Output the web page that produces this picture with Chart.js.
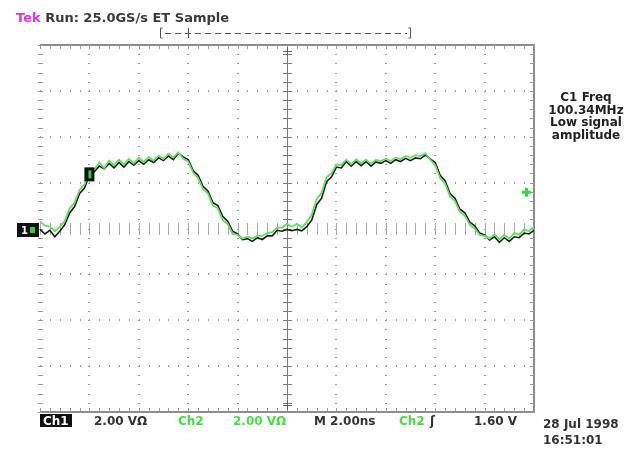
<!DOCTYPE html>
<html>
<head>
<meta charset="utf-8">
<script src="https://cdn.jsdelivr.net/npm/chart.js@4/dist/chart.umd.min.js"></script>
<style>
  html, body { margin: 0; padding: 0; background: #ffffff; }
  #wrap { width: 640px; height: 450px; position: relative; }
</style>
</head>
<body>
<div id="wrap"><canvas id="c" width="640" height="450"></canvas></div>
<script>
// ---- Acquisition settings ----
const T_START_NS = -10;      // left edge of record
const SAMPLE_NS = 0.2;       // spacing of the plotted samples
const TIME_TICKS_NS = [-10, -8, -6, -4, -2, 0, 2, 4, 6, 8, 10];
const VOLT_TICKS_DIV = [-4, -3, -2, -1, 0, 1, 2, 3, 4];

// ---- Channel 1 (black), in vertical divisions ----
const ch1Div = [
  -0.02,-0.12,-0.04,-0.18,-0.06, 0.08, 0.34, 0.48, 0.76, 0.88,
   1.16, 1.24, 1.36, 1.30, 1.42, 1.32, 1.44, 1.34, 1.46, 1.38,
   1.48, 1.40, 1.50, 1.44, 1.54, 1.48, 1.58, 1.50, 1.64, 1.56,
   1.50, 1.26, 1.16, 0.92, 0.82, 0.56, 0.50, 0.26, 0.16,-0.06,
  -0.12,-0.24,-0.22,-0.28,-0.20,-0.24,-0.16,-0.16,-0.04,-0.06,
  -0.02,-0.05,-0.02,-0.05, 0.04, 0.18, 0.52, 0.66, 1.02, 1.12,
   1.34, 1.32, 1.46, 1.36, 1.46, 1.37, 1.46, 1.36, 1.45, 1.42,
   1.48, 1.42, 1.50, 1.46, 1.53, 1.48, 1.54, 1.52, 1.60, 1.52,
   1.44, 1.16, 1.04, 0.76, 0.66, 0.42, 0.34, 0.14, 0.06,-0.10,
  -0.14,-0.25,-0.18,-0.30,-0.20,-0.28,-0.18,-0.20,-0.10,-0.12,
  -0.04
];

// ---- Channel 2 (green), in vertical divisions ----
const ch2Div = [
   0.16, 0.06, 0.04,-0.06, 0.04, 0.16, 0.44, 0.56, 0.84, 0.96,
   1.22, 1.28, 1.44, 1.32, 1.48, 1.38, 1.50, 1.39, 1.52, 1.42,
   1.54, 1.45, 1.56, 1.48, 1.59, 1.52, 1.63, 1.55, 1.66, 1.52,
   1.46, 1.22, 1.10, 0.86, 0.76, 0.50, 0.44, 0.18, 0.10,-0.12,
  -0.14,-0.22,-0.18,-0.22,-0.16,-0.16,-0.10,-0.08, 0.02, 0.02,
   0.10, 0.04, 0.10, 0.02, 0.14, 0.30, 0.64, 0.78, 1.12, 1.20,
   1.40, 1.38, 1.50, 1.40, 1.51, 1.42, 1.50, 1.41, 1.50, 1.47,
   1.52, 1.47, 1.55, 1.51, 1.58, 1.54, 1.60, 1.58, 1.64, 1.50,
   1.38, 1.10, 0.98, 0.70, 0.60, 0.36, 0.28, 0.08, 0.00,-0.14,
  -0.16,-0.22,-0.12,-0.24,-0.14,-0.22,-0.10,-0.14,-0.02,-0.06,
   0.04
];

// ---- Screen readouts ----
const headerBrand = "Tek";
const headerText = "Run: 25.0GS/s ET Sample";
const measureLines = ["C1 Freq", "100.34MHz", "Low signal", "amplitude"];
const ch1Label = "Ch1";
const ch1Scale = "2.00 V\u03A9";
const ch2Label = "Ch2";
const ch2Scale = "2.00 V\u03A9";
const timebase = "M 2.00ns";
const trigSource = "Ch2";
const trigSlope = "\u0283";
const trigLevel = "1.60 V";
const dateText = "28 Jul 1998";
const timeText = "16:51:01";
const trigLevelDiv = 0.8;    // 1.60 V at 2 V/div

const toPoints = arr => arr.map((v, i) => ({ x: T_START_NS + i * SAMPLE_NS, y: v }));

const FONT = "'DejaVu Sans', sans-serif";

const scopePlugin = {
  id: 'scope',
  beforeDatasetsDraw(chart) {
    const { ctx, scales: { x, y } } = chart;
    const L = x.getPixelForValue(-10), R = x.getPixelForValue(10);
    const T = y.getPixelForValue(4), B = y.getPixelForValue(-4);
    const cx = x.getPixelForValue(0), cy = y.getPixelForValue(0);
    ctx.save();
    // dotted graticule along vertical major lines
    ctx.fillStyle = '#9a9a9a';
    for (const tx of TIME_TICKS_NS) {
      if (tx === 0) continue;
      const px = Math.round(x.getPixelForValue(tx));
      for (let k = -20; k <= 20; k++) {
        const py = Math.round(y.getPixelForValue(k / 5));
        ctx.fillRect(px - 1, py, 2, 1);
      }
    }
    // dotted graticule along horizontal major lines
    for (const dv of VOLT_TICKS_DIV) {
      if (dv === 0) continue;
      const py = Math.round(y.getPixelForValue(dv));
      for (let k = -25; k <= 25; k++) {
        const px = Math.round(x.getPixelForValue(k * 0.4));
        ctx.fillRect(px, py - 1, 1, 2);
      }
    }
    // center horizontal axis: tick marks only
    ctx.fillStyle = '#a8a8a8';
    for (let k = -25; k <= 25; k++) {
      const px = Math.round(x.getPixelForValue(k * 0.4));
      ctx.fillRect(px, Math.round(cy) - 6, 1, 12);
    }
    // center vertical axis
    ctx.strokeStyle = '#7a7a7a';
    ctx.lineWidth = 1;
    ctx.beginPath();
    ctx.moveTo(Math.round(cx) + 0.5, T);
    ctx.lineTo(Math.round(cx) + 0.5, B);
    ctx.stroke();
    for (let k = -20; k <= 20; k++) {
      const py = Math.round(y.getPixelForValue(k / 5)) + 0.5;
      ctx.beginPath();
      ctx.moveTo(cx - 4, py); ctx.lineTo(cx + 5, py); ctx.stroke();
    }
    // frame: top, right, bottom
    ctx.strokeStyle = '#8c8c8c';
    ctx.lineWidth = 2;
    ctx.beginPath();
    ctx.moveTo(L, T); ctx.lineTo(R, T); ctx.lineTo(R, B); ctx.lineTo(L, B);
    ctx.stroke();
    // frame ticks
    ctx.lineWidth = 1;
    ctx.strokeStyle = '#9a9a9a';
    for (let k = -25; k <= 25; k++) {
      const px = Math.round(x.getPixelForValue(k * 0.4)) + 0.5;
      ctx.beginPath();
      ctx.moveTo(px, T); ctx.lineTo(px, T + 4);
      ctx.moveTo(px, B); ctx.lineTo(px, B - 4);
      ctx.stroke();
    }
    for (let k = -20; k <= 20; k++) {
      const py = Math.round(y.getPixelForValue(k / 5)) + 0.5;
      ctx.beginPath();
      ctx.moveTo(R, py); ctx.lineTo(R - 4, py);
      ctx.moveTo(L - 2, py); ctx.lineTo(L + 3, py);
      ctx.stroke();
    }
    // trigger position marks
    ctx.strokeStyle = '#666';
    ctx.beginPath();
    ctx.moveTo(cx - 4, T + 6.5); ctx.lineTo(cx + 5, T + 6.5);
    ctx.moveTo(cx + 0.5, T + 2); ctx.lineTo(cx + 0.5, T + 11);
    ctx.moveTo(cx - 4, B - 6.5); ctx.lineTo(cx + 5, B - 6.5);
    ctx.moveTo(cx + 0.5, B - 2); ctx.lineTo(cx + 0.5, B - 11);
    ctx.stroke();
    ctx.restore();
  },
  afterDraw(chart) {
    const { ctx, scales: { x, y } } = chart;
    const R = x.getPixelForValue(10);
    ctx.save();
    ctx.textBaseline = 'alphabetic';
    // header
    ctx.font = 'bold 13px ' + FONT;
    ctx.fillStyle = '#e030e0';
    ctx.fillText(headerBrand, 16, 22);
    const bw = ctx.measureText(headerBrand + ' ').width;
    ctx.fillStyle = '#3a3a3a';
    ctx.fillText(headerText, 16 + bw, 22);
    // record bracket
    ctx.strokeStyle = '#555';
    ctx.lineWidth = 1;
    ctx.beginPath();
    ctx.moveTo(162.5, 28); ctx.lineTo(160.5, 28); ctx.lineTo(160.5, 38); ctx.lineTo(162.5, 38);
    ctx.moveTo(408.5, 28); ctx.lineTo(410.5, 28); ctx.lineTo(410.5, 38); ctx.lineTo(408.5, 38);
    ctx.moveTo(188.5, 28); ctx.lineTo(188.5, 38);
    ctx.stroke();
    ctx.setLineDash([6, 4]);
    ctx.beginPath();
    ctx.moveTo(165, 33.5); ctx.lineTo(407, 33.5);
    ctx.stroke();
    ctx.setLineDash([]);
    // measurement panel
    ctx.font = 'bold 12px ' + FONT;
    ctx.fillStyle = '#222';
    ctx.textAlign = 'center';
    measureLines.forEach((t, i) => ctx.fillText(t, 586, 101 + i * 12.5));
    ctx.textAlign = 'left';
    // ch1 ground marker
    ctx.fillStyle = '#111';
    ctx.fillRect(17, 223, 22, 14);
    ctx.fillStyle = '#fff';
    ctx.font = 'bold 10px ' + FONT;
    ctx.fillText('1', 21, 234);
    ctx.fillStyle = '#2fd02f';
    ctx.fillRect(30, 227, 5, 6);
    // marker on trace
    const mx = x.getPixelForValue(-8.0), my = y.getPixelForValue(1.18);
    ctx.fillStyle = '#111';
    ctx.fillRect(mx - 5, my - 7, 10, 14);
    ctx.fillStyle = '#2fd02f';
    ctx.fillRect(mx - 1, my - 4, 3, 8);
    // trigger level marker (right)
    const ty = y.getPixelForValue(trigLevelDiv);
    ctx.fillStyle = '#3ad83a';
    ctx.fillRect(R - 12, ty - 1, 9, 3);
    ctx.fillRect(R - 9, ty - 4, 3, 9);
    // bottom readouts
    ctx.font = 'bold 12px ' + FONT;
    ctx.fillStyle = '#111';
    ctx.fillRect(40, 414, 32, 13);
    ctx.fillStyle = '#fff';
    ctx.fillText(ch1Label, 43, 425);
    ctx.fillStyle = '#333';
    ctx.fillText(ch1Scale, 94, 425);
    ctx.fillStyle = '#44dd44';
    ctx.fillText(ch2Label, 178, 425);
    ctx.fillText(ch2Scale, 233, 425);
    ctx.fillStyle = '#333';
    ctx.fillText(timebase, 314, 425);
    ctx.fillStyle = '#44dd44';
    ctx.fillText(trigSource, 399, 425);
    ctx.fillStyle = '#333';
    ctx.fillText(trigSlope, 430, 425);
    ctx.fillText(trigLevel, 474, 425);
    ctx.font = 'bold 12px ' + FONT;
    ctx.fillText(dateText, 543, 428);
    ctx.fillText(timeText, 543, 444);
    ctx.restore();
  }
};

new Chart(document.getElementById('c'), {
  type: 'line',
  data: {
    datasets: [
      {
        label: 'Ch2',
        data: toPoints(ch2Div),
        borderColor: '#5fe05f',
        borderWidth: 1.8,
        pointRadius: 0,
        tension: 0,
        fill: false
      },
      {
        label: 'Ch1',
        data: toPoints(ch1Div),
        borderColor: '#1a1a1a',
        borderWidth: 1.6,
        pointRadius: 0,
        tension: 0,
        fill: false
      }
    ]
  },
  options: {
    responsive: false,
    animation: false,
    events: [],
    layout: { padding: { left: 40, right: 106, top: 45, bottom: 38 } },
    plugins: { legend: { display: false }, tooltip: { enabled: false }, title: { display: false } },
    scales: {
      x: { type: 'linear', min: -10, max: 10, display: false },
      y: { type: 'linear', min: -4, max: 4, display: false }
    }
  },
  plugins: [scopePlugin]
});
</script>
</body>
</html>
